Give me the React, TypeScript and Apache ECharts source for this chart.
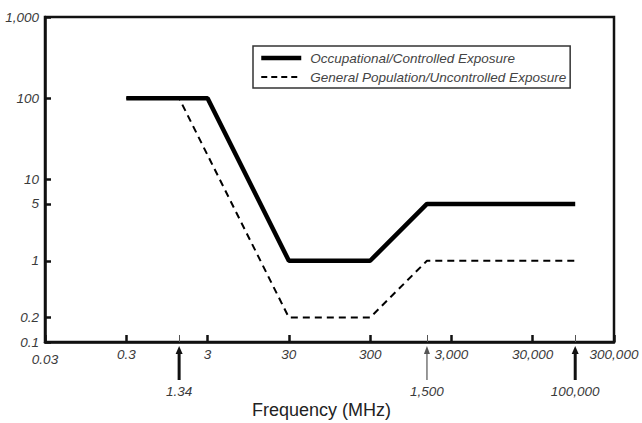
import React, { useEffect, useRef } from "react";
import * as echarts from "echarts";

const occFreq = [0.3, 3, 30, 300, 1500, 100000];
const occValues = [100, 100, 1, 1, 5, 5];
const genFreq = [0.3, 1.34, 30, 300, 1500, 100000];
const genValues = [100, 100, 0.2, 0.2, 1, 1];
const xTickValues = [0.03, 0.3, 3, 30, 300, 3000, 30000, 300000];
const yTickValues = [0.1, 0.2, 1, 5, 10, 100, 1000];
const markerFreqs = [1.34, 1500, 100000];
const markerBold = [true, false, true];
const seriesNames = [
  "Occupational/Controlled Exposure",
  "General Population/Uncontrolled Exposure",
];

const fmt = (v: number) => {
  if (v >= 1000) return Math.round(v).toLocaleString("en-US");
  return String(+v.toPrecision(3));
};

const labelFont = {
  fontFamily: "Liberation Sans, Arial, sans-serif",
  fontStyle: "italic" as const,
  fontSize: 13.5,
  color: "#3a3a3a",
};

export default function App() {
  const ref = useRef<HTMLDivElement>(null);
  useEffect(() => {
    document.body.style.margin = "0";
    if (!ref.current) return;
    const chart = echarts.init(ref.current, undefined, { renderer: "svg" });
    const occData = occFreq.map((f, i) => [f, occValues[i]]);
    const genData = genFreq.map((f, i) => [f, genValues[i]]);
    chart.setOption({
      animation: false,
      backgroundColor: "#fff",
      grid: {
        left: 45,
        top: 17,
        right: 28,
        bottom: 81,
        show: true,
        containLabel: false,
        outerBoundsMode: "none",
        borderColor: "#111",
        borderWidth: 2.5,
      },
      legend: {
        orient: "vertical",
        left: 253,
        top: 46,
        padding: [5, 4, 4, 6],
        itemWidth: 40,
        itemHeight: 14,
        itemGap: 5,
        borderColor: "#333",
        borderWidth: 1.5,
        backgroundColor: "#fff",
        itemStyle: { opacity: 0 },
        textStyle: { ...labelFont, fontSize: 13.5, color: "#444", padding: [0, 0, 0, 4] },
        data: [
          { name: seriesNames[0], lineStyle: { width: 4.5, color: "#000" } },
          { name: seriesNames[1], lineStyle: { width: 2, color: "#000", type: [6, 4] } },
        ],
      },
      xAxis: [
        {
          type: "log",
          logBase: 10,
          min: 0.03,
          max: 300000,
          name: "Frequency (MHz)",
          nameLocation: "middle",
          nameGap: 59,
          nameTextStyle: {
            fontFamily: "Liberation Sans, Arial, sans-serif",
            fontSize: 18,
            color: "#222",
            padding: [0, 16, 0, 0],
          },
          axisLine: { show: true, lineStyle: { color: "#111", width: 2.5 } },
          axisTick: {
            show: true,
            inside: true,
            length: 7,
            customValues: xTickValues,
            lineStyle: { color: "#111", width: 2.5 },
          },
          axisLabel: {
            ...labelFont,
            margin: 5,
            customValues: xTickValues,
            formatter: (v: number) => (v === 0.03 ? "{low|0.03}" : fmt(v)),
            rich: { low: { ...labelFont, padding: [5, 0, 0, 0] } },
          },
          splitLine: { show: false },
          minorTick: { show: false },
        },
        {
          type: "log",
          logBase: 10,
          min: 0.03,
          max: 300000,
          position: "bottom",
          axisLine: { show: false },
          axisTick: {
            show: true,
            inside: true,
            length: 7,
            customValues: markerFreqs,
            lineStyle: { color: "#555", width: 1 },
          },
          axisLabel: {
            ...labelFont,
            margin: 42,
            customValues: markerFreqs,
            formatter: (v: number) => fmt(v),
          },
          splitLine: { show: false },
        },
      ],
      yAxis: {
        type: "log",
        logBase: 10,
        min: 0.1,
        max: 1000,
        axisLine: { show: true, lineStyle: { color: "#111", width: 2.5 } },
        axisTick: {
          show: true,
          inside: true,
          length: 6,
          customValues: yTickValues,
          lineStyle: { color: "#111", width: 2.5 },
        },
        axisLabel: {
          ...labelFont,
          margin: 6,
          customValues: yTickValues,
          formatter: (v: number) => fmt(v),
        },
        splitLine: { show: false },
        minorTick: { show: false },
      },
      series: [
        {
          name: seriesNames[0],
          type: "line",
          xAxisIndex: 0,
          data: occData,
          symbol: "none",
          lineStyle: { color: "#000", width: 4.5 },
          itemStyle: { color: "#000" },
          z: 3,
        },
        {
          name: seriesNames[1],
          type: "line",
          xAxisIndex: 0,
          data: genData,
          symbol: "none",
          lineStyle: { color: "#000", width: 2, type: [7, 5] },
          itemStyle: { color: "#000" },
          z: 2,
        },
      ],
    });

    const yBase = chart.convertToPixel({ yAxisIndex: 0 }, 0.1) as number;
    const graphics: any[] = [];
    markerFreqs.forEach((f, i) => {
      const x = chart.convertToPixel({ xAxisIndex: 0 }, f) as number;
      const bold = markerBold[i];
      const w = bold ? 3 : 1.2;
      const tipY = yBase + 4;
      graphics.push({
        type: "line",
        shape: { x1: x, y1: tipY + 6, x2: x, y2: yBase + 38 },
        style: { stroke: bold ? "#111" : "#555", lineWidth: w },
        silent: true,
      });
      graphics.push({
        type: "polygon",
        shape: {
          points: [
            [x, tipY],
            [x - (bold ? 3.5 : 3), tipY + 8],
            [x + (bold ? 3.5 : 3), tipY + 8],
          ],
        },
        style: { fill: bold ? "#111" : "#555" },
        silent: true,
      });
    });
    chart.setOption({ graphic: graphics });

    return () => chart.dispose();
  }, []);
  return <div ref={ref} style={{ width: 642, height: 423 }} />;
}
